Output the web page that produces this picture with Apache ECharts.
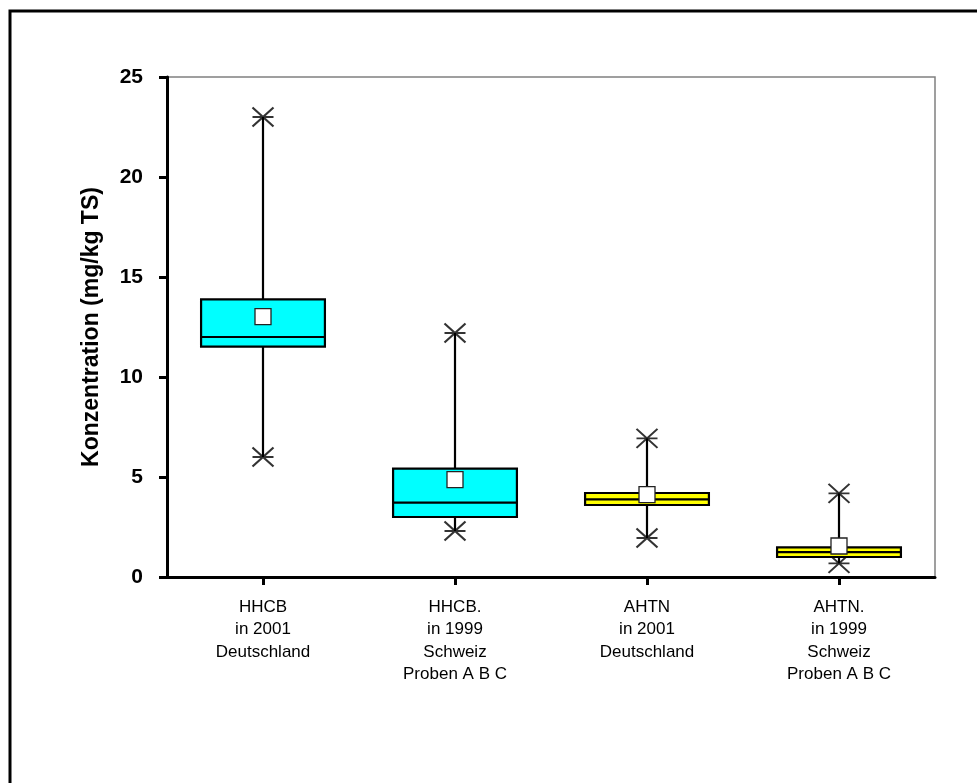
<!DOCTYPE html>
<html>
<head>
<meta charset="utf-8">
<script src="https://cdn.jsdelivr.net/npm/echarts@6/dist/echarts.min.js"></script>
<style>html,body{margin:0;padding:0;background:#fff}#c{width:977px;height:783px}</style>
</head>
<body>
<div id="c"></div>
<script>
var categories = ['HHCB\nin 2001\nDeutschland', 'HHCB.\nin 1999\nSchweiz\nProben A B C', 'AHTN\nin 2001\nDeutschland', 'AHTN.\nin 1999\nSchweiz\nProben A B C'];
var whiskerMin = [6.0, 2.3, 1.95, 0.68];
var q1 = [11.52, 3.0, 3.6, 1.0];
var medians = [12.0, 3.72, 3.88, 1.24];
var q3 = [13.88, 5.42, 4.2, 1.48];
var whiskerMax = [23.0, 12.2, 6.93, 4.18];
var means = [13.02, 4.87, 4.12, 1.55];
var boxColors = ['#00FFFF', '#00FFFF', '#FFFF00', '#FFFF00'];
var yTicks = [0, 5, 10, 15, 20, 25];

var boxData = categories.map(function (c, i) {
  return [i, whiskerMin[i], q1[i], medians[i], q3[i], whiskerMax[i]];
});
var endData = [];
categories.forEach(function (c, i) { endData.push([i, whiskerMin[i]]); endData.push([i, whiskerMax[i]]); });
var meanData = categories.map(function (c, i) { return [i, means[i]]; });

var chart = echarts.init(document.getElementById('c'), null, {renderer: 'canvas'});
chart.setOption({
  animation: false,
  backgroundColor: '#fff',
  grid: {left: 167, right: 42, top: 77, bottom: 206, show: true, borderColor: '#808080', borderWidth: 1.5, backgroundColor: 'transparent'},
  xAxis: {
    type: 'category', data: categories, boundaryGap: true,
    axisLine: {show: true, lineStyle: {color: '#000', width: 3}},
    axisTick: {show: true, alignWithLabel: true, length: 8, lineStyle: {color: '#000', width: 3}},
    axisLabel: {color: '#000', fontFamily: 'Liberation Sans, Arial', fontSize: 17, lineHeight: 22.5, margin: 19},
    splitLine: {show: false}
  },
  yAxis: {
    type: 'value', min: yTicks[0], max: yTicks[yTicks.length - 1], interval: 5,
    name: 'Konzentration (mg/kg TS)', nameLocation: 'middle', nameGap: 64,
    nameTextStyle: {color: '#000', fontFamily: 'Liberation Sans, Arial', fontWeight: 'bold', fontSize: 23},
    axisLine: {show: true, lineStyle: {color: '#000', width: 3}},
    axisTick: {show: true, length: 8, lineStyle: {color: '#000', width: 3}},
    axisLabel: {color: '#000', fontFamily: 'Liberation Sans, Arial', fontWeight: 'bold', fontSize: 21, margin: 24},
    splitLine: {show: false}
  },
  graphic: [{
    type: 'polyline', shape: {points: [[10, 783], [10, 11], [977, 11]]},
    style: {stroke: '#000', lineWidth: 3, fill: null}, z: 100
  }],
  series: [
    {
      type: 'scatter', data: endData, z: 1,
      symbol: 'path://M0,9L20,9M0,0L20,18M0,18L20,0', symbolSize: [21, 19],
      itemStyle: {color: 'none', borderColor: '#000', borderWidth: 2}
    },
    {
      type: 'custom', data: boxData, z: 2,
      renderItem: function (params, api) {
        var i = api.value(0);
        var x = api.coord([i, 0])[0];
        var half = api.size([1, 0])[0] * 0.645 / 2;
        var yMin = api.coord([i, api.value(1)])[1];
        var yQ1 = api.coord([i, api.value(2)])[1];
        var yMed = api.coord([i, api.value(3)])[1];
        var yQ3 = api.coord([i, api.value(4)])[1];
        var yMax = api.coord([i, api.value(5)])[1];
        return {
          type: 'group',
          children: [
            {type: 'line', shape: {x1: x, y1: yMin, x2: x, y2: yMax}, style: {stroke: '#000', lineWidth: 2.2}},
            {type: 'rect', shape: {x: x - half, y: yQ3, width: half * 2, height: yQ1 - yQ3}, style: {fill: boxColors[i], stroke: '#000', lineWidth: 2.2}},
            {type: 'line', shape: {x1: x - half, y1: yMed, x2: x + half, y2: yMed}, style: {stroke: '#000', lineWidth: 2.2}}
          ]
        };
      }
    },
    {
      type: 'scatter', data: meanData, z: 3,
      symbol: 'rect', symbolSize: 16,
      itemStyle: {color: '#fff', borderColor: '#222', borderWidth: 1.3, opacity: 1}
    }
  ]
});
</script>
</body>
</html>
